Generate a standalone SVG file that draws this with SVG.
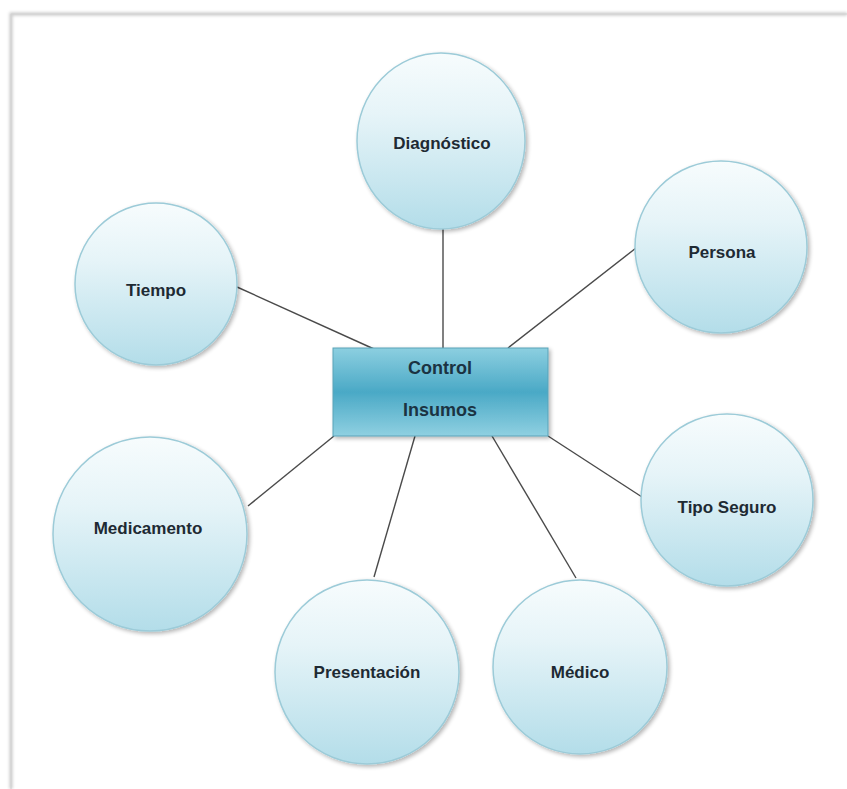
<svg xmlns="http://www.w3.org/2000/svg" width="847" height="789" viewBox="0 0 847 789">
<defs>
<linearGradient id="cg" x1="0" y1="0" x2="0" y2="1">
<stop offset="0" stop-color="#f7fcfd"/>
<stop offset="0.35" stop-color="#e6f4f8"/>
<stop offset="1" stop-color="#b3dde9"/>
</linearGradient>
<linearGradient id="rg" x1="0" y1="0" x2="0" y2="1">
<stop offset="0" stop-color="#8ccfe0"/>
<stop offset="0.5" stop-color="#4aa9c6"/>
<stop offset="1" stop-color="#8fd0e1"/>
</linearGradient>
<filter id="sh" x="-10%" y="-10%" width="125%" height="125%">
<feGaussianBlur in="SourceAlpha" stdDeviation="2"/>
<feOffset dx="1.5" dy="2" result="b"/>
<feComponentTransfer><feFuncA type="linear" slope="0.3"/></feComponentTransfer>
<feMerge><feMergeNode/><feMergeNode in="SourceGraphic"/></feMerge>
</filter>
<filter id="fb" x="-5%" y="-5%" width="110%" height="110%">
<feGaussianBlur stdDeviation="1.5"/>
</filter>
</defs>
<style>
.c{fill:url(#cg);stroke:#9ccbd8;stroke-width:1.5;filter:url(#sh)}
.t{font-family:"Liberation Sans",Arial,sans-serif;font-weight:bold;font-size:17px;fill:#1e2a33;text-anchor:middle;dominant-baseline:central}
.r{font-family:"Liberation Sans",Arial,sans-serif;font-weight:bold;font-size:18px;fill:#1b3342;text-anchor:middle;dominant-baseline:central}
.l{stroke:#4a4a4a;stroke-width:1.4;fill:none}
</style>
<rect width="847" height="789" fill="#ffffff"/>
<g id="frame">
<path d="M11 789 V14 H847" stroke="#c8c8c8" stroke-width="3" fill="none" filter="url(#fb)"/>
<path d="M11 789 V14 H847" stroke="#d2d2d2" stroke-width="1" fill="none"/>
</g>
<g id="connectors">
<line class="l" x1="443" y1="229" x2="443" y2="348"/>
<line class="l" x1="636" y1="248" x2="508" y2="348"/>
<line class="l" x1="237" y1="287" x2="374" y2="349"/>
<line class="l" x1="642" y1="497" x2="548" y2="436"/>
<line class="l" x1="576" y1="578" x2="492" y2="436"/>
<line class="l" x1="374" y1="577" x2="415" y2="436"/>
<line class="l" x1="248" y1="506" x2="334" y2="436"/>
</g>
<g id="diagnostico"><ellipse class="c" cx="441" cy="141" rx="84" ry="88"/><text class="t" x="442" y="143">Diagnóstico</text></g>
<g id="persona"><circle class="c" cx="721" cy="247" r="86"/><text class="t" x="722" y="252">Persona</text></g>
<g id="tiempo"><circle class="c" cx="156" cy="284" r="81"/><text class="t" x="156" y="290">Tiempo</text></g>
<g id="tipo-seguro"><circle class="c" cx="727" cy="500" r="86"/><text class="t" x="727" y="507">Tipo Seguro</text></g>
<g id="medico"><circle class="c" cx="580" cy="667" r="87"/><text class="t" x="580" y="672">Médico</text></g>
<g id="presentacion"><circle class="c" cx="367" cy="672" r="92"/><text class="t" x="367" y="672">Presentación</text></g>
<g id="medicamento"><circle class="c" cx="150" cy="534" r="97"/><text class="t" x="148" y="528">Medicamento</text></g>
<g id="control-insumos">
<rect x="333" y="348" width="215" height="88" fill="url(#rg)" stroke="#5aa3b8" stroke-width="1" filter="url(#sh)"/>
<text class="r" x="440" y="368">Control</text>
<text class="r" x="440" y="410">Insumos</text>
</g>
</svg>
